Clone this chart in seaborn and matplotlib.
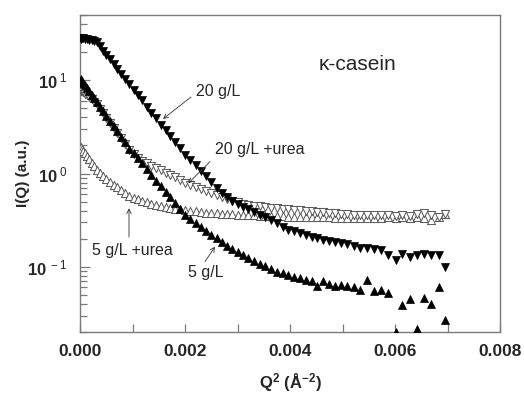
import numpy as np
import pandas as pd
import matplotlib
matplotlib.use("Agg")
import matplotlib.pyplot as plt
from matplotlib.ticker import FixedLocator, FixedFormatter, LogLocator, NullFormatter
import seaborn as sns

# ---------------- data (Q^2 in 1e-4 A^-2 units) ----------------
q2_e4 = [0.1, 0.3, 0.6, 0.9, 1.3, 1.7, 2.2, 2.7, 3.2, 3.8,
         4.4, 5.0, 5.7, 6.4, 7.1, 7.8, 8.6, 9.4, 10.2, 11.0,
         11.8, 12.7, 13.6, 14.5, 15.4, 16.3, 17.2, 18.1, 19.0, 20.0,
         21.0, 22.0, 23.0, 24.0, 25.0, 26.0, 27.0, 28.0, 29.0, 30.0,
         31.0, 32.0, 33.1, 34.2, 35.3, 36.4, 37.5, 38.6, 39.7, 40.8,
         41.9, 43.0, 44.1, 45.2, 46.3, 47.4, 48.5, 49.7, 50.9, 52.1,
         53.4, 54.7, 56.0, 57.3, 58.7, 60.1, 61.4, 62.8, 64.1, 65.5,
         66.9, 68.3, 69.6]

i_20 = [27.5, 28, 28, 27.5, 27.5, 27, 27, 26.5, 25.5, 23,
        20.7, 18.7, 16.7, 14.9, 13.2, 11.8, 10.3, 9.0, 7.9, 6.9,
        6.1, 5.2, 4.5, 3.9, 3.35, 2.9, 2.5, 2.15, 1.86, 1.58,
        1.38, 1.22, 1.07, 0.93, 0.81, 0.70, 0.62, 0.556, 0.507, 0.468,
        0.436, 0.412, 0.389, 0.363, 0.339, 0.316, 0.292, 0.269, 0.251, 0.24,
        0.229, 0.219, 0.209, 0.202, 0.195, 0.19, 0.184, 0.18, 0.174, 0.168,
        0.158, 0.158, 0.157, 0.15, 0.135, 0.118, 0.137, 0.127, 0.134, 0.137,
        0.134, 0.134, 0.099]

i_5 = [10.3, 9.9, 9.4, 8.9, 8.2, 7.7, 7.0, 6.4, 5.8, 5.2,
       4.66, 4.17, 3.66, 3.22, 2.83, 2.49, 2.15, 1.85, 1.64, 1.45,
       1.28, 1.11, 0.97, 0.84, 0.73, 0.64, 0.556, 0.484, 0.42, 0.363,
       0.324, 0.292, 0.266, 0.243, 0.221, 0.202, 0.184, 0.168, 0.155, 0.143,
       0.133, 0.124, 0.116, 0.108, 0.101, 0.094, 0.089, 0.085, 0.081, 0.0785,
       0.076, 0.073, 0.071, 0.063, 0.070, 0.066, 0.062, 0.064, 0.063, 0.061,
       0.0565, 0.072, 0.055, 0.056, 0.052, 0.020, 0.039, 0.045, 0.0215, 0.046,
       0.040, 0.061, 0.027]

i_20u = [7.6, 7.6, 7.4, 7.2, 6.9, 6.6, 6.3, 5.9, 5.5, 4.95,
         4.45, 3.98, 3.5, 3.08, 2.71, 2.39, 2.06, 1.78, 1.6, 1.47,
         1.37, 1.29, 1.21, 1.14, 1.08, 1.02, 0.966, 0.912, 0.861, 0.80,
         0.759, 0.716, 0.676, 0.646, 0.617, 0.582, 0.556, 0.531, 0.507, 0.49,
         0.473, 0.462, 0.452, 0.445, 0.437, 0.431, 0.425, 0.419, 0.412, 0.407,
         0.403, 0.398, 0.394, 0.389, 0.385, 0.38, 0.376, 0.372, 0.367, 0.363,
         0.359, 0.357, 0.355, 0.355, 0.36, 0.35, 0.36, 0.35, 0.365, 0.375,
         0.355, 0.345, 0.37]

i_5u = [1.9, 1.84, 1.74, 1.64, 1.53, 1.43, 1.30, 1.19, 1.10, 1.01,
        0.94, 0.87, 0.81, 0.76, 0.71, 0.67, 0.62, 0.58, 0.55, 0.53,
        0.51, 0.49, 0.475, 0.462, 0.45, 0.44, 0.43, 0.42, 0.413, 0.405,
        0.398, 0.392, 0.386, 0.381, 0.377, 0.373, 0.37, 0.367, 0.364, 0.361,
        0.359, 0.357, 0.355, 0.353, 0.351, 0.35, 0.348, 0.347, 0.345, 0.344,
        0.343, 0.342, 0.341, 0.34, 0.339, 0.338, 0.337, 0.336, 0.335, 0.334,
        0.333, 0.332, 0.331, 0.335, 0.34, 0.335, 0.34, 0.33, 0.345, 0.33,
        0.32, 0.345, 0.365]

series_names = ["20 g/L", "5 g/L", "20 g/L +urea", "5 g/L +urea"]

xtick_vals = [0.000, 0.002, 0.004, 0.006, 0.008]
xtick_labels = ["0.000", "0.002", "0.004", "0.006", "0.008"]
ytick_vals = [0.1, 1, 10]
ytick_labels = [r"$\mathbf{10}^{\ -1}$", r"$\mathbf{10}^{\ 0}$", r"$\mathbf{10}^{\ 1}$"]

# ---------------- build table ----------------
q2 = np.array(q2_e4) * 1e-4
frames = []
for name, vals in zip(series_names, [i_20, i_5, i_20u, i_5u]):
    frames.append(pd.DataFrame({"Q2": q2, "I": vals, "series": name}))
df = pd.concat(frames, ignore_index=True)

# ---------------- style ----------------
sns.set_theme(style="ticks")
plt.rcParams["font.family"] = ["Liberation Sans", "DejaVu Sans"]
plt.rcParams["mathtext.fontset"] = "custom"
plt.rcParams["mathtext.rm"] = "Liberation Sans"
plt.rcParams["mathtext.bf"] = "Liberation Sans:bold"
plt.rcParams["mathtext.it"] = "Liberation Sans:italic"

fig = plt.figure(figsize=(5.24, 3.93), dpi=100)
ax = fig.add_axes([80 / 524, 61 / 393, 420 / 524, 317 / 393])
ax.set_yscale("log")

styles = {
    "5 g/L +urea": dict(marker="^", s=34, facecolor="white", edgecolor="#555555", linewidth=0.7),
    "20 g/L +urea": dict(marker="v", s=34, facecolor="white", edgecolor="#555555", linewidth=0.7),
    "5 g/L": dict(marker="^", s=33, facecolor="black", edgecolor="black", linewidth=0.5),
    "20 g/L": dict(marker="v", s=33, facecolor="black", edgecolor="black", linewidth=0.5),
}
for name in ["5 g/L +urea", "20 g/L +urea", "5 g/L", "20 g/L"]:
    st = styles[name]
    sns.scatterplot(data=df[df["series"] == name], x="Q2", y="I", ax=ax,
                    marker=st["marker"], s=st["s"], color=st["facecolor"],
                    edgecolor=st["edgecolor"], linewidth=st["linewidth"],
                    legend=False, zorder=3)

ax.set_xlim(0, 0.008)
ax.set_ylim(0.02, 50)

ax.xaxis.set_major_locator(FixedLocator(xtick_vals))
ax.xaxis.set_major_formatter(FixedFormatter(xtick_labels))
ax.xaxis.set_minor_locator(FixedLocator([0.001, 0.003, 0.005, 0.007]))
ax.yaxis.set_major_locator(FixedLocator(ytick_vals))
ax.yaxis.set_major_formatter(FixedFormatter(ytick_labels))
ax.yaxis.set_minor_locator(LogLocator(base=10, subs=np.arange(2, 10)))
ax.yaxis.set_minor_formatter(NullFormatter())

spine_col = "#7a7a7a"
for sp in ax.spines.values():
    sp.set_color(spine_col)
    sp.set_linewidth(1.0)
ax.tick_params(axis="both", which="both", direction="in", color=spine_col, width=0.9)
ax.tick_params(axis="x", which="major", length=6, pad=9, labelsize=12.5)
ax.tick_params(axis="x", which="minor", length=6)
ax.tick_params(axis="y", which="major", length=7, pad=9, labelsize=12)
ax.tick_params(axis="y", which="minor", length=5)
for lab in ax.get_xticklabels():
    lab.set_fontweight("bold")

ax.set_xlabel(r"$\mathbf{Q^{2}\ (\AA^{-2})}$", fontsize=12)
ax.set_ylabel("I(Q) (a.u.)", fontsize=11, fontweight="bold")
ax.xaxis.set_label_coords(0.5, -0.125)
ax.yaxis.set_label_coords(-0.12, 0.5)

# ---------------- annotations ----------------
ax.text(0.00528, 14.6, "\u03ba-casein", fontsize=15, ha="center", va="center")
arrow_kw = dict(arrowstyle="->", lw=0.6, color="#333333", shrinkA=0, shrinkB=0, mutation_scale=8)
ann = [
    ("20 g/L", (0.00263, 7.66), (0.002114, 6.6), (0.001581, 3.84)),
    ("20 g/L +urea", (0.00343, 1.83), (0.002476, 1.34), (0.002063, 0.785)),
    ("5 g/L +urea", (0.00099, 0.148), (0.000933, 0.209), (0.000933, 0.424)),
    ("5 g/L", (0.0024, 0.0859), (0.002381, 0.1135), (0.002571, 0.1644)),
]
for txt, pos, start, tip in ann:
    ax.text(pos[0], pos[1], txt, fontsize=11.5, ha="center", va="center")
    ax.annotate("", xy=tip, xytext=start, arrowprops=arrow_kw)

fig.savefig("out.png", dpi=100)
